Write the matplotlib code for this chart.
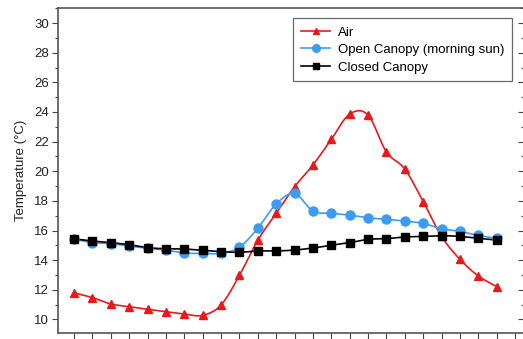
"""Canopy temperature profiles: air vs open vs closed canopy."""

import numpy as np
import matplotlib
matplotlib.use("Agg")
import matplotlib.pyplot as plt
from matplotlib.ticker import MultipleLocator

plt.rcParams["font.family"] = ["Liberation Sans", "DejaVu Sans"]

# --- data (one value per half-hourly step) ---
air = [11.8, 11.47, 11.04, 10.86, 10.68, 10.53, 10.36, 10.27, 10.97, 12.97,
       15.34, 17.16, 18.95, 20.42, 22.15, 23.86, 23.79, 21.3, 20.15, 17.95,
       15.6, 14.05, 12.93, 12.21]
open_canopy = [15.43, 15.18, 15.11, 14.95, 14.8, 14.68, 14.48, 14.46, 14.46, 14.87,
               16.15, 17.79, 18.5, 17.31, 17.16, 17.04, 16.86, 16.75, 16.64, 16.48,
               16.12, 15.94, 15.67, 15.47]
closed_canopy = [15.43, 15.29, 15.18, 15.04, 14.84, 14.77, 14.75, 14.66, 14.57, 14.53,
                 14.62, 14.62, 14.68, 14.82, 15.0, 15.18, 15.4, 15.45, 15.56, 15.6,
                 15.65, 15.6, 15.47, 15.36]
labels = ["Air", "Open Canopy (morning sun)", "Closed Canopy"]

RED = "#e8191a"
BLUE = "#3b9cf2"
BLACK = "#000000"


def smooth(y, n=12):
    """Catmull-Rom through the points, only for drawing the line."""
    y = np.asarray(y, float)
    p = np.concatenate([[2 * y[0] - y[1]], y, [2 * y[-1] - y[-2]]])
    t = np.linspace(0, 1, n, endpoint=False)
    xs, ys = [], []
    for i in range(len(y) - 1):
        p0, p1, p2, p3 = p[i], p[i + 1], p[i + 2], p[i + 3]
        seg = 0.5 * (2 * p1 + (-p0 + p2) * t + (2 * p0 - 5 * p1 + 4 * p2 - p3) * t ** 2
                     + (-p0 + 3 * p1 - 3 * p2 + p3) * t ** 3)
        xs.append(i + t); ys.append(seg)
    xs.append([len(y) - 1]); ys.append([y[-1]])
    return np.concatenate(xs), np.concatenate(ys)


def main():
    fig = plt.figure(figsize=(5.23, 3.39), dpi=100)
    ax = fig.add_axes([57.5 / 523, 0.0168, (523.5 - 57.5) / 523, 0.9755 - 0.0168])

    x = np.arange(len(air))
    styles = [(air, RED, "^", 5.5), (open_canopy, BLUE, "o", 6.5), (closed_canopy, BLACK, "s", 5.5)]
    handles = []
    for (vals, col, mk, ms), lab in zip(styles, labels):
        sx, sy = smooth(vals)
        ax.plot(sx, sy, color=col, lw=1.2, zorder=2)
        ax.plot(x, vals, mk, color=col, ms=ms, zorder=3)
        h, = ax.plot([], [], color=col, lw=1.2, marker=mk, ms=ms - 1, label=lab)
        handles.append(h)

    ax.set_xlim(-0.9, 24.46)
    ax.set_ylim(9.06, 31)
    ax.xaxis.set_major_locator(MultipleLocator(1))
    ax.yaxis.set_major_locator(MultipleLocator(2))
    ax.yaxis.set_minor_locator(MultipleLocator(1))
    ax.set_xticklabels([])
    ax.tick_params(axis="x", direction="out", length=4, width=0.8, colors="#444444")
    ax.tick_params(axis="y", which="major", direction="out", length=4, width=0.8,
                   labelsize=9.5, colors="#444444", labelcolor="#222222", pad=2)
    ax.tick_params(axis="y", which="minor", direction="out", length=2, width=0.8, colors="#444444")
    for s in ax.spines.values():
        s.set_color("#555555"); s.set_linewidth(1.2)
    ax.set_ylabel("Temperature (°C)", fontsize=9.5, color="#222222", labelpad=5)

    # inward ticks on the right edge
    ax2 = ax.twinx()
    ax2.set_ylim(ax.get_ylim())
    ax2.yaxis.set_major_locator(MultipleLocator(2))
    ax2.yaxis.set_minor_locator(MultipleLocator(1))
    ax2.tick_params(axis="y", which="major", direction="in", length=4, width=0.8,
                    colors="#444444", labelright=False)
    ax2.tick_params(axis="y", which="minor", direction="in", length=2, width=0.8, colors="#444444")
    for s in ax2.spines.values():
        s.set_visible(False)

    leg = ax.legend(handles=handles, loc="upper right", bbox_to_anchor=(0.975, 0.969),
                    borderaxespad=0, fontsize=9.5, frameon=True, fancybox=False,
                    handlelength=2.2, handletextpad=0.55, labelspacing=0.4,
                    borderpad=0.6)
    leg.get_frame().set_edgecolor("#444444")
    leg.get_frame().set_linewidth(0.9)

    fig.savefig("out.png", dpi=100)


if __name__ == "__main__":
    main()
